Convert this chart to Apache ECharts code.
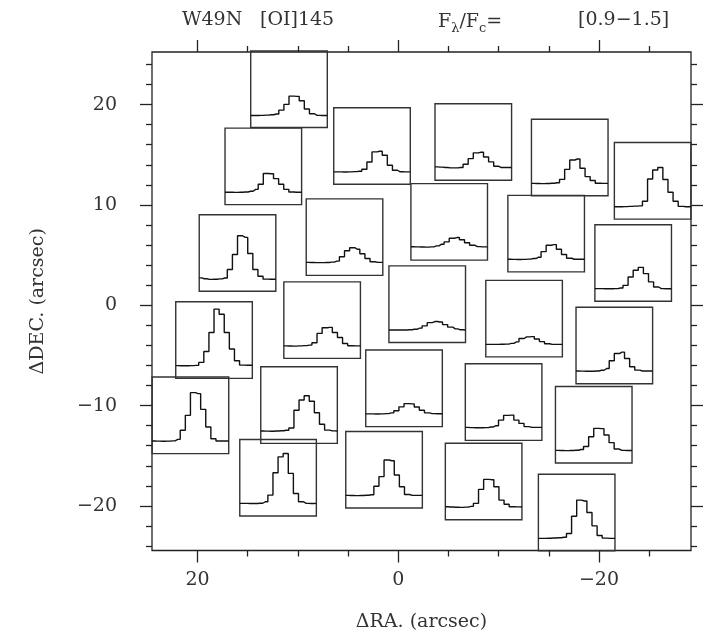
<!DOCTYPE html>
<html><head><meta charset="utf-8">
<script src="https://cdn.jsdelivr.net/npm/echarts@6/dist/echarts.min.js"></script>
<style>html,body{margin:0;padding:0;background:#fff}#c{width:718px;height:638px}</style>
</head><body><div id="c"></div>
<script>
// ---- data ----
const boxNames = ['A','B','C','D','E','F','G','H','I','J','K','L','M','N','O','P','Q','R','S','T','U','V','W','X','Y'];
const boxRA  = [10.88, 13.44, 2.61, -7.48, -17.09, -25.35, 16.01, 5.35, -5.08, -14.74, -23.41, 18.35, 7.58, -2.89, -12.54, -21.53, 20.70, 9.88, -0.58, -10.50, -19.48, 11.97, 1.41, -8.51, -17.78];
const boxDEC = [21.53, 13.84, 15.87, 16.27, 14.73, 12.40, 5.21, 6.79, 8.31, 7.14, 4.21, -3.47, -1.48, 0.11, -1.33, -4.01, -10.97, -9.95, -8.28, -9.65, -11.91, -17.19, -16.39, -17.56, -20.65];

const specA = [0.994,0.994,0.995,0.997,1.000,1.006,1.036,1.081,1.146,1.144,1.110,1.045,1.008,0.995,0.994,0.994];
const specB = [0.997,0.997,0.996,0.997,0.999,1.005,1.020,1.060,1.144,1.142,1.104,1.060,1.020,0.999,0.997,0.997];
const specC = [0.997,0.997,0.996,0.997,0.999,1.002,1.018,1.075,1.154,1.159,1.128,1.049,1.010,0.998,0.997,0.997];
const specD = [1.005,1.003,1.000,0.997,0.997,1.000,1.026,1.070,1.115,1.120,1.083,1.044,1.010,1.000,1.000,1.000];
const specE = [0.997,0.996,0.995,0.996,0.998,1.002,1.028,1.107,1.180,1.188,1.115,1.050,1.020,0.998,0.997,0.997];
const specF = [0.997,0.997,0.998,1.000,1.002,1.004,1.040,1.215,1.285,1.304,1.210,1.110,1.040,1.000,0.997,0.997];
const specG = [1.005,0.998,0.993,0.994,0.997,1.004,1.070,1.188,1.335,1.322,1.196,1.070,1.018,0.995,0.994,0.994];
const specH = [1.002,1.001,1.000,1.000,1.001,1.004,1.012,1.046,1.093,1.117,1.105,1.070,1.033,1.007,1.002,1.002];
const specI = [1.005,1.004,1.003,1.002,1.004,1.012,1.025,1.043,1.072,1.077,1.060,1.036,1.017,1.006,1.004,1.004];
const specJ = [0.999,0.998,0.997,0.998,1.000,1.005,1.015,1.059,1.109,1.114,1.078,1.036,1.007,0.999,0.999,0.999];
const specK = [0.999,0.999,0.998,0.998,0.999,1.004,1.025,1.091,1.143,1.166,1.117,1.052,1.012,0.999,0.998,0.998];
const specL = [1.000,0.999,0.999,1.000,1.002,1.025,1.111,1.260,1.443,1.403,1.260,1.130,1.038,1.004,1.003,1.003];
const specM = [0.998,0.997,0.996,0.998,1.000,1.004,1.023,1.096,1.140,1.143,1.103,1.064,1.017,0.999,0.998,0.998];
const specN = [0.997,0.997,0.997,0.998,0.999,1.003,1.012,1.030,1.055,1.064,1.060,1.040,1.020,1.006,0.999,0.998];
const specO = [0.998,0.998,0.998,0.999,1.000,1.006,1.018,1.044,1.057,1.059,1.040,1.020,1.003,0.998,0.998,0.998];
const specP = [1.000,0.999,0.998,0.998,1.000,1.006,1.020,1.080,1.137,1.148,1.098,1.033,1.007,1.000,1.000,1.000];
const specQ = [0.999,0.998,0.997,0.998,1.000,1.012,1.083,1.200,1.378,1.370,1.247,1.109,1.017,0.999,0.999,0.999];
const specR = [0.997,0.996,0.995,0.997,0.999,1.003,1.020,1.160,1.240,1.273,1.230,1.140,1.050,1.004,0.998,0.997];
const specS = [1.000,1.000,0.999,1.000,1.002,1.008,1.025,1.055,1.080,1.078,1.054,1.028,1.008,1.002,1.001,1.001];
const specT = [1.002,1.000,0.999,0.999,1.000,1.005,1.015,1.059,1.096,1.098,1.059,1.033,1.008,1.002,1.002,1.002];
const specU = [0.999,0.998,0.997,0.998,1.000,1.006,1.030,1.106,1.172,1.170,1.120,1.060,1.010,0.999,0.998,0.998];
const specV = [0.999,0.999,0.998,0.998,1.000,1.012,1.064,1.239,1.364,1.390,1.234,1.077,1.012,0.999,0.998,0.999];
const specW = [0.999,0.998,0.997,0.998,1.000,1.004,1.070,1.146,1.276,1.270,1.159,1.067,1.006,0.999,0.999,0.999];
const specX = [1.002,1.000,0.998,0.997,0.999,1.005,1.028,1.138,1.216,1.214,1.159,1.054,1.022,1.002,1.001,1.000];
const specY = [0.997,0.997,0.998,1.000,1.002,1.006,1.035,1.170,1.297,1.290,1.200,1.095,1.020,0.999,0.997,0.997];
const spectra = [specA,specB,specC,specD,specE,specF,specG,specH,specI,specJ,specK,specL,specM,specN,specO,specP,specQ,specR,specS,specT,specU,specV,specW,specX,specY];

const xMajorTicks = [20, 0, -20];
const xMinorTicks = [15, 10, 5, -5, -10, -15, -25];
const yMajorTicks = [20, 10, 0, -10, -20];
const yMinorTicks = [24, 22, 18, 16, 14, 12, 8, 6, 4, 2, -2, -4, -6, -8, -12, -14, -16, -18, -22, -24];
const xRange = [-29.17, 24.53];
const yRange = [-24.44, 25.24];
const specRange = [0.9, 1.5];
const BOX = 7.63; // box side, arcsec
const titleParts = ['W49N', '[OI]145', '[0.9\u22121.5]'];

// ---- style ----
const FONT = 'DejaVu Serif';
const INK = '#222';
const LBL = '#333';
const FS = 19;

const chart = echarts.init(document.getElementById('c'), null, {renderer: 'canvas'});
const fmt = v => String(v).replace('-', '\u2212');

function xAx(pos, ticks, len, labels, name) {
  return {
    type: 'value', gridIndex: 0, position: pos, min: xRange[0], max: xRange[1], inverse: true,
    axisLine: {show: false, onZero: false}, splitLine: {show: false},
    axisTick: {show: true, inside: false, length: len, customValues: ticks, lineStyle: {color: INK, width: 1.3}},
    axisLabel: labels ? {show: true, customValues: ticks, formatter: fmt, margin: 20, color: LBL, fontFamily: FONT, fontSize: FS} : {show: false},
    name: name || '', nameLocation: 'middle', nameGap: 62,
    nameTextStyle: {fontFamily: FONT, fontSize: FS, color: LBL}
  };
}
function yAx(pos, ticks, len, labels, name) {
  return {
    type: 'value', gridIndex: 0, position: pos, min: yRange[0], max: yRange[1],
    axisLine: {show: false, onZero: false}, splitLine: {show: false},
    axisTick: {show: true, inside: false, length: len, customValues: ticks, lineStyle: {color: INK, width: 1.3}},
    axisLabel: labels ? {show: true, customValues: ticks, formatter: fmt, margin: 35, color: LBL, fontFamily: FONT, fontSize: FS} : {show: false},
    name: name || '', nameLocation: 'middle', nameGap: 104, nameRotate: 90,
    nameTextStyle: {fontFamily: FONT, fontSize: FS, color: LBL}
  };
}

const mainGrid = {left: 152, top: 52, width: 539, height: 498.5, show: true, borderColor: INK, borderWidth: 1.3, backgroundColor: 'transparent'};
const mainX = [xAx('bottom', xMajorTicks, 12, true, '\u0394RA. (arcsec)'), xAx('bottom', xMinorTicks, 6, false),
               xAx('top', xMajorTicks, 12, false), xAx('top', xMinorTicks, 6, false)];
const mainY = [yAx('left', yMajorTicks, 12, true, '\u0394DEC. (arcsec)'), yAx('left', yMinorTicks, 6, false),
               yAx('right', yMajorTicks, 12, false), yAx('right', yMinorTicks, 6, false)];

const tStyle = {fontFamily: FONT, fontSize: FS, fontWeight: 'normal', color: LBL};
const titles = [
  {text: titleParts[0], left: 177, top: 6, textStyle: tStyle},
  {text: titleParts[1], left: 255, top: 6, textStyle: tStyle},
  {text: '{a|F}{s|\u03bb}{a|/F}{s|c}{a|=}', left: 433, top: 4, textStyle: {fontWeight: 'normal',
     rich: {a: {fontFamily: FONT, fontSize: FS, fontWeight: 'normal', color: LBL, lineHeight: 26},
            s: {fontFamily: FONT, fontSize: 13, fontWeight: 'normal', color: LBL, verticalAlign: 'bottom', lineHeight: 14}}}},
  {text: titleParts[2], left: 573, top: 6, textStyle: tStyle}
];

const base = {
  animation: false, backgroundColor: '#fff',
  title: titles, grid: [mainGrid], xAxis: mainX, yAxis: mainY, series: []
};
chart.setOption(base);

// place the small spectrum panels through the main axes' scales
const grids = [mainGrid], xs = mainX.slice(), ys = mainY.slice(), series = [];
spectra.forEach((spec, k) => {
  const x1 = chart.convertToPixel({xAxisIndex: 0}, boxRA[k] + BOX / 2);
  const x2 = chart.convertToPixel({xAxisIndex: 0}, boxRA[k] - BOX / 2);
  const y1 = chart.convertToPixel({yAxisIndex: 0}, boxDEC[k] + BOX / 2);
  const y2 = chart.convertToPixel({yAxisIndex: 0}, boxDEC[k] - BOX / 2);
  const gi = grids.length;
  grids.push({left: Math.min(x1, x2), top: Math.min(y1, y2), width: Math.abs(x2 - x1), height: Math.abs(y2 - y1),
              show: true, borderColor: '#333', borderWidth: 1.4, backgroundColor: 'transparent'});
  xs.push({type: 'value', gridIndex: gi, min: 0, max: spec.length - 1, show: false});
  ys.push({type: 'value', gridIndex: gi, min: specRange[0], max: specRange[1], show: false});
  series.push({type: 'line', name: boxNames[k], xAxisIndex: xs.length - 1, yAxisIndex: ys.length - 1,
               data: spec.map((v, i) => [i, v]), step: 'middle', symbol: 'none', silent: true,
               lineStyle: {color: '#111', width: 1.4}});
});
chart.setOption({animation: false, backgroundColor: '#fff', title: titles, grid: grids, xAxis: xs, yAxis: ys, series: series}, true);
</script></body></html>
